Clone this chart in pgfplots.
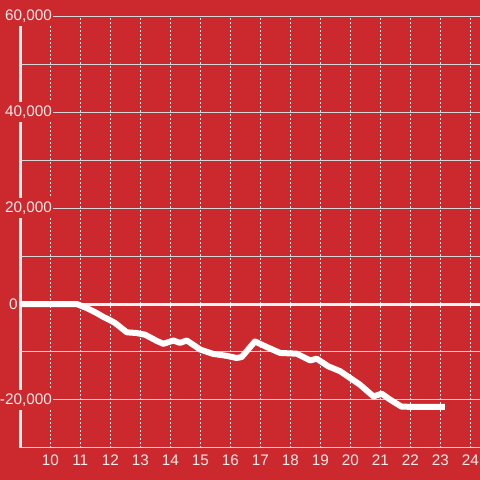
\documentclass[border=0pt]{standalone}
\usepackage{pgfplots}
\pgfplotsset{compat=1.18}
\usepackage{fontspec}
\setmainfont{Liberation Sans}
\definecolor{bgred}{RGB}{204,41,46}
\definecolor{gridgray}{RGB}{214,214,214}
\definecolor{dotwhite}{RGB}{235,235,235}
\definecolor{labelwhite}{RGB}{246,236,236}
\begin{document}
\begin{tikzpicture}
\fill[bgred] (0,0) rectangle (480pt,480pt);
\useasboundingbox (0,0) rectangle (480pt,480pt);
% y axis line, drawn first so the tick labels cover it
\draw[white!94!black, line width=3pt] (20.3pt,32pt) -- (20.3pt,456pt);
\begin{axis}[
    at={(20.3pt,32pt)}, anchor=south west,
    scale only axis, width=459.7pt, height=432pt,
    xmin=9, xmax=24.323, ymin=-30000, ymax=60000,
    axis line style={draw=none},
    tick style={draw=none},
    xtick={10,...,24},
    ytick={-20000,20000,40000,60000},
    minor ytick={-30000,-10000,10000,30000,50000},
    xmajorgrids, ymajorgrids, yminorgrids,
    major x grid style={dotwhite, line width=1pt, dash pattern=on 2pt off 2pt},
    major y grid style={gridgray, line width=1pt},
    minor y grid style={gridgray, line width=1pt},
    scaled y ticks=false,
    /pgf/number format/1000 sep={,},
    /pgf/number format/assume math mode=true,
    tick label style={font=\fontsize{15.3}{18}\selectfont, text=labelwhite},
    xticklabel style={anchor=base, yshift=-17.7pt, inner sep=0pt},
    yticklabel style={anchor=east, xshift=32.7pt, fill=bgred, inner xsep=1pt, inner ysep=4pt},
    extra y ticks={0},
    extra y tick style={
        yticklabel style={anchor=west, xshift=-45pt},
        major y grid style={white!96!black, line width=3pt},
    },
]
\addplot[white, line width=6pt, line join=round] coordinates {
    (9.00,0) (10.88,0) (11.21,-830) (11.55,-1900) (11.77,-2700)
    (12.00,-3400) (12.16,-3960) (12.55,-5900) (12.88,-6050) (13.16,-6400)
    (13.55,-7700) (13.77,-8300) (14.10,-7600) (14.32,-8100) (14.55,-7600)
    (15.00,-9500) (15.43,-10400) (15.88,-10800) (16.21,-11250) (16.38,-11050)
    (16.82,-7800) (17.21,-8950) (17.66,-10200) (18.21,-10350) (18.66,-11750)
    (18.88,-11400) (19.27,-13000) (19.66,-14000) (19.99,-15400) (20.32,-16800)
    (20.77,-19250) (21.05,-18700) (21.32,-19900) (21.71,-21400) (23.15,-21450)
};
\end{axis}
\end{tikzpicture}
\end{document}
